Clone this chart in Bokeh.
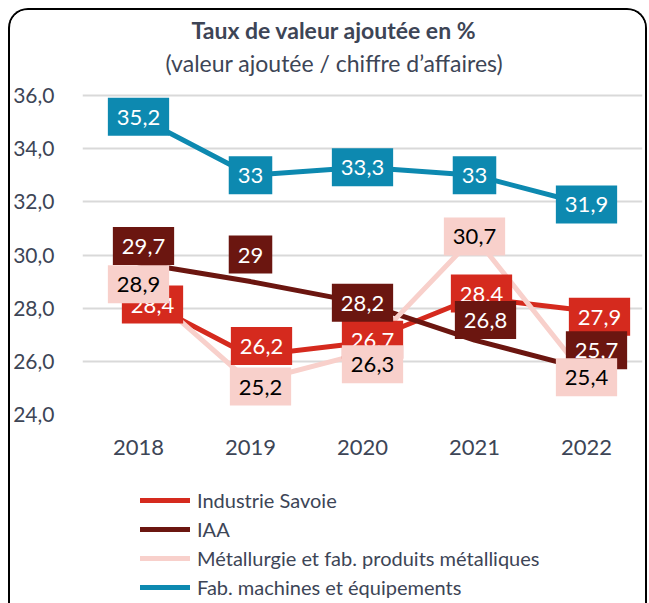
from bokeh.plotting import figure
from bokeh.layouts import column
from bokeh.models import (ColumnDataSource, FactorRange, Range1d, FixedTicker,
                          Legend, LegendItem, Title)
from bokeh.core.properties import value
from bokeh.embed import file_html
from bokeh.resources import INLINE

# ---------------- data ----------------
years = ["2018", "2019", "2020", "2021", "2022"]
industrie_savoie = [28.4, 26.2, 26.7, 28.4, 27.9]
iaa = [29.7, 29.0, 28.2, 26.8, 25.7]
metallurgie = [28.9, 25.2, 26.3, 30.7, 25.4]
machines = [35.2, 33.0, 33.3, 33.0, 31.9]
series_names = ["Industrie Savoie", "IAA",
                "Métallurgie et fab. produits métalliques",
                "Fab. machines et équipements"]
y_ticks = [24, 26, 28, 30, 32, 34, 36]
y_tick_labels = ["24,0", "26,0", "28,0", "30,0", "32,0", "34,0", "36,0"]
title_text = "Taux de valeur ajoutée en %"
subtitle_text = "(valeur ajoutée / chiffre d’affaires)"

# ---------------- style ----------------
FONT = "Lato"
TXT = "#3D4556"
colors = ["#D52A1E", "#6B1610", "#F8D0CB", "#0D89B0"]
label_text_colors = ["white", "white", "black", "white"]
# label offsets in screen pixels (dx right, dy down)
label_dx = [[14, 11, 10, 7, 13], [5, 0, 0, 11, 10], [0, 10, 10, 0, 0], [0, 0, 0, 0, 0]]
label_dy = [[7, -10, -3, -4, 6], [-17, -27, 0, -20, -19], [0, 4, 11, 0, 0], [0, 0, 0, 0, 0]]

W = 635
H_CHART, H_LEG = 460, 133
FR_LEFT, FR_RIGHT_PAD = 68, 3
GRID_TOP, FR_TOP, FR_BOTTOM = 85, 69, 404      # canvas pixels
px_per_unit = (FR_BOTTOM - GRID_TOP) / (y_ticks[-1] - y_ticks[0])
y_top = y_ticks[0] + (FR_BOTTOM - FR_TOP) / px_per_unit

p = figure(width=W, height=H_CHART, x_range=FactorRange(*years, range_padding=0),
           y_range=Range1d(y_ticks[0], y_top), output_backend="svg",
           toolbar_location=None,
           min_border_left=FR_LEFT, min_border_right=FR_RIGHT_PAD,
           min_border_top=FR_TOP, min_border_bottom=H_CHART - FR_BOTTOM,
           outline_line_color=None,
           background_fill_color="white", border_fill_color="white")

p.xgrid.grid_line_color = None
p.ygrid.grid_line_color = "#D9D9D9"
p.ygrid.grid_line_width = 2

p.yaxis.ticker = FixedTicker(ticks=y_ticks)
p.yaxis.major_label_overrides = {t: l for t, l in zip(y_ticks, y_tick_labels)}
for ax in (p.xaxis, p.yaxis):
    ax.axis_line_color = None
    ax.major_tick_line_color = None
    ax.minor_tick_line_color = None
    ax.major_label_text_font = FONT
    ax.major_label_text_color = TXT
p.yaxis.major_label_text_font_size = "21px"
p.yaxis.major_label_standoff = 22
p.xaxis.major_label_text_font_size = "22px"
p.xaxis.major_label_standoff = 19

all_series = [industrie_savoie, iaa, metallurgie, machines]
for vals, col in zip(all_series, colors):
    p.line(x=years, y=vals, line_color=col, line_width=5,
           line_join="round", line_cap="round")

for i, (vals, col) in enumerate(zip(all_series, colors)):
    src = ColumnDataSource(dict(
        x=years, y=vals,
        label=[f"{v:g}".replace(".", ",") for v in vals],
        dx=label_dx[i], dy=label_dy[i]))
    p.text(x="x", y="y", text="label", source=src, x_offset="dx", y_offset="dy",
           text_font=value(FONT), text_font_size="22px",
           text_color=label_text_colors[i], text_align="center",
           text_baseline="middle", background_fill_color=col,
           padding=dict(left=9, right=9, top=12, bottom=11))

p.add_layout(Title(text=subtitle_text, align="left", offset=83, text_font=FONT,
                   text_font_size="23px", text_font_style="normal",
                   text_color=TXT, standoff=6), "above")
p.add_layout(Title(text=title_text, align="left", offset=109, text_font=FONT,
                   text_font_size="23px", text_font_style="bold",
                   text_color=TXT, standoff=0), "above")

# ---- legend panel ----
q = figure(width=W, height=H_LEG, x_range=Range1d(0, 1), y_range=Range1d(0, 1),
           output_backend="svg", toolbar_location=None, min_border=0,
           x_axis_type=None, y_axis_type=None, outline_line_color=None,
           background_fill_color="white", border_fill_color="white")
nan = float("nan")
swatches = [q.line(x=[nan], y=[nan], line_color=col, line_width=5, line_cap="round")
            for col in colors]
legend = Legend(items=[LegendItem(label=n, renderers=[r])
                       for n, r in zip(series_names, swatches)],
                location=(58, 4), orientation="vertical",
                glyph_width=50, glyph_height=24, label_height=24, spacing=5,
                label_standoff=7, padding=0, margin=0,
                border_line_color=None, background_fill_alpha=0,
                label_text_font=FONT, label_text_font_size="20px",
                label_text_color=TXT)
q.add_layout(legend)

layout = column(p, q, spacing=0)
layout.styles = {"margin-left": "8px", "margin-top": "8px",
                 "box-sizing": "content-box",
                 "border": "2px solid black", "border-bottom": "none",
                 "border-radius": "20px 20px 0 0", "overflow": "hidden"}

open("out.html", "w").write(file_html(layout, INLINE))
